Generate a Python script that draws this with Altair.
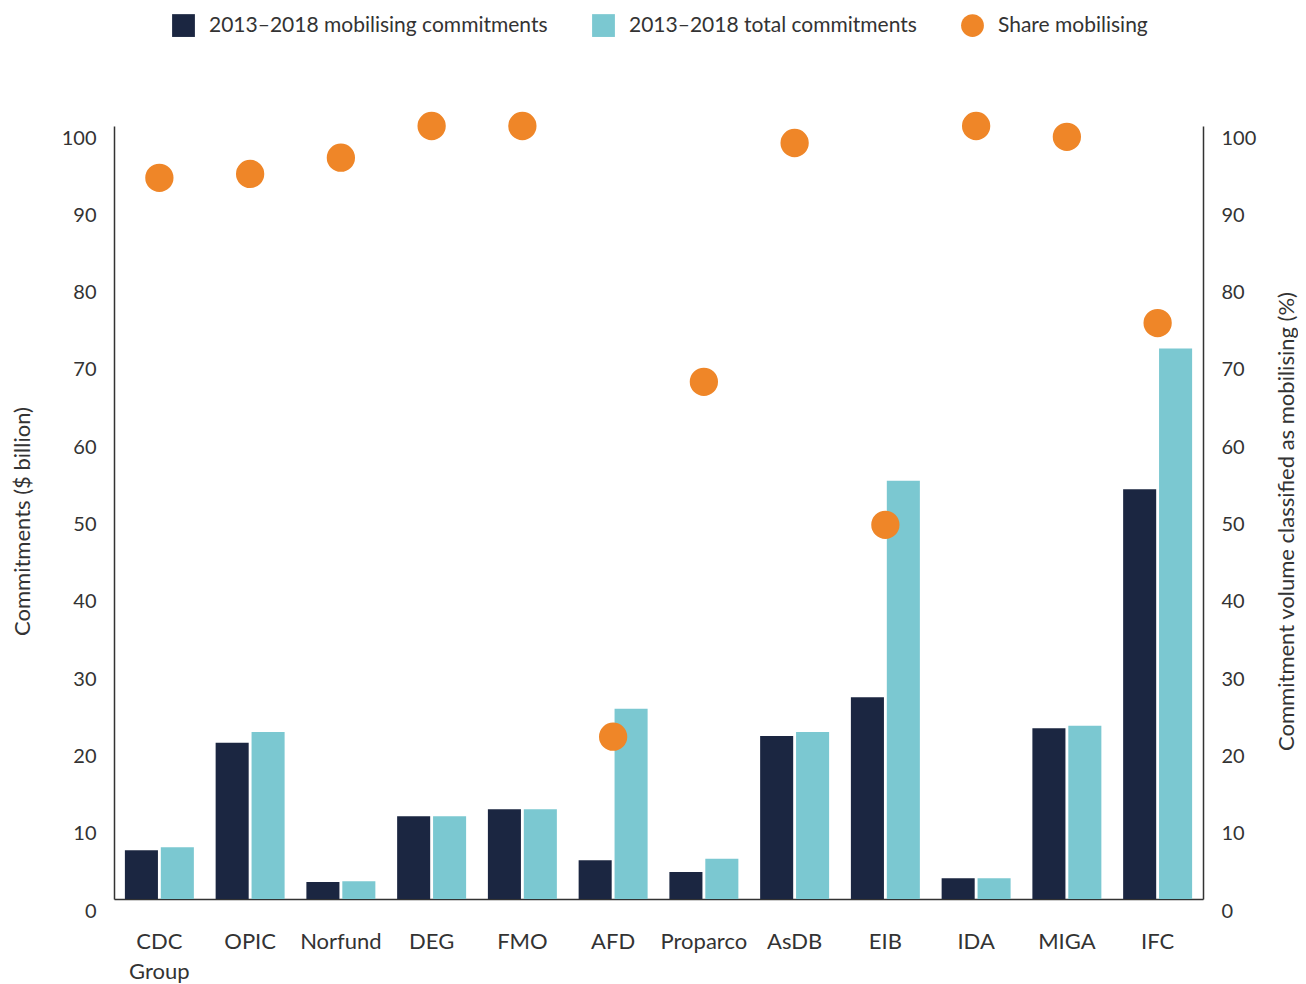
import altair as alt
import pandas as pd

categories = ["CDC Group", "OPIC", "Norfund", "DEG", "FMO", "AFD", "Proparco",
              "AsDB", "EIB", "IDA", "MIGA", "IFC"]
mobilising = [6.3, 20.2, 2.2, 10.7, 11.6, 5.0, 3.5, 21.1, 26.1, 2.7, 22.1, 53.0]
total = [6.7, 21.6, 2.3, 10.7, 11.6, 24.6, 5.2, 21.6, 54.1, 2.7, 22.4, 71.2]
share = [93.3, 93.8, 95.9, 100, 100, 21.0, 66.9, 97.8, 48.4, 100, 98.6, 74.5]

series = ["2013\u20132018 mobilising commitments", "2013\u20132018 total commitments", "Share mobilising"]
colors = ["#1b2641", "#7bc8d1", "#ef8628"]

bars = pd.DataFrame(
    [{"cat": c, "series": series[0], "value": v} for c, v in zip(categories, mobilising)]
    + [{"cat": c, "series": series[1], "value": v} for c, v in zip(categories, total)]
)
pts = pd.DataFrame({"cat": categories, "series": series[2], "share": share})

color_scale = alt.Scale(domain=series, range=colors)
legend = alt.Legend(
    title=None, orient="none", direction="horizontal", legendX=58, legendY=-112,
    labelFontSize=21, labelColor="#333333", labelLimit=600, symbolSize=520,
    symbolStrokeWidth=0, labelOffset=14, columnPadding=44, padding=0,
)

xenc = alt.X("cat:N", sort=categories, title=None,
             scale=alt.Scale(paddingInner=0.24, paddingOuter=0.12),
             axis=alt.Axis(labelAngle=0, labelFontSize=22, labelColor="#333333",
                           labelPadding=32, ticks=False, domainColor="#333333",
                           domainWidth=1.5, labelExpr="split(datum.label, ' ')",
                           labelLineHeight=30, labelBaseline="top"))

bar_layer = alt.Chart(bars).mark_bar().encode(
    x=xenc,
    xOffset=alt.XOffset("series:N", sort=series[:2], scale=alt.Scale(paddingInner=0.08, paddingOuter=0)),
    y=alt.Y("value:Q", scale=alt.Scale(domain=[0, 100], nice=False),
            title="Commitments ($ billion)",
            axis=alt.Axis(values=list(range(0, 101, 10)), grid=False, ticks=False,
                          labelFontSize=20, labelColor="#333333", labelPadding=18,
                          labelOffset=12, domainColor="#333333", domainWidth=1.5,
                          titleFontSize=22, titleFontWeight="normal", titleColor="#333333",
                          titleX=-92, titleY=395, titleAngle=270, titleBaseline="middle")),
    color=alt.Color("series:N", scale=color_scale, legend=legend),
)

pt_layer = alt.Chart(pts).mark_point(filled=True, opacity=1, size=800).encode(
    x=alt.X("cat:N", sort=categories),
    y=alt.Y("share:Q", scale=alt.Scale(domain=[0, 100], nice=False),
            title="Commitment volume classified as mobilising (%)",
            axis=alt.Axis(orient="right", values=list(range(0, 101, 10)), grid=False,
                          ticks=False, labelFontSize=20, labelColor="#333333",
                          labelPadding=18, labelOffset=12, domainColor="#333333",
                          domainWidth=1.5, titleFontSize=22, titleFontWeight="normal",
                          titleColor="#333333", titleX=83, titleY=395, titleAngle=270,
                          titleBaseline="middle")),
    color=alt.Color("series:N", scale=color_scale, legend=legend),
    shape=alt.Shape("series:N", scale=alt.Scale(domain=series, range=["square", "square", "circle"]),
                    legend=legend),
)

chart = alt.layer(bar_layer, pt_layer).resolve_scale(y="independent").properties(
    width=1089, height=773,
    autosize=alt.AutoSizeParams(type="none"),
    padding={"left": 106, "top": 118, "right": 95, "bottom": 85},
).configure(font="Lato").configure_view(stroke=None)

chart.save("out.html", embed_options={"renderer": "svg", "actions": False})
